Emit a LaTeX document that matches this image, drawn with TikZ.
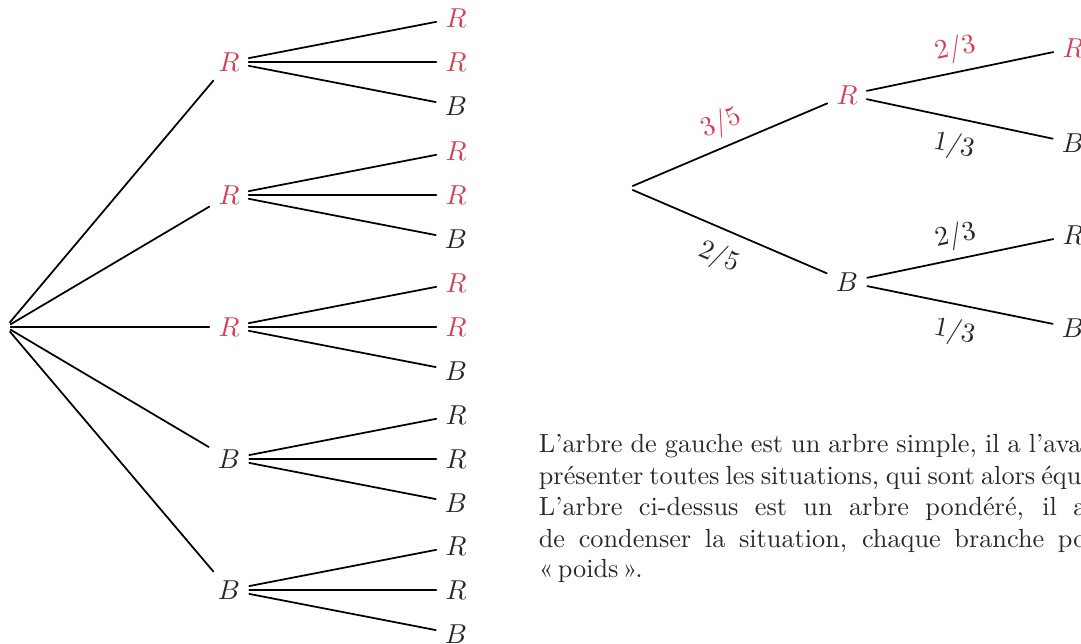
\documentclass[tikz,border=0pt]{standalone}
\usepackage{tikz}
\definecolor{rouge}{RGB}{214,64,84}
\definecolor{encre}{RGB}{40,40,40}
\tikzset{
  sommet/.style={text=encre},
  racine/.style={inner sep=1.5pt},
  poids/.style={midway,sloped,text=encre},
  ligne/.style={anchor=base west,text=encre,inner sep=0pt},
}

\begin{document}
\begin{tikzpicture}[line join=round,line cap=round,line width=0.7pt,x=0.4pt,y=-0.4pt,font=\fontsize{10.5}{13.9}\selectfont]
		\useasboundingbox (0,0) rectangle (1081,644);
		\clip (0,0) rectangle (1081,644);
		% arbre simple
		\node[racine] (O) at (6,327) {};
		\foreach \i/\y/\l/\c in {1/62/R/rouge,2/195/R/rouge,3/327/R/rouge,4/459/B/encre,5/590/B/encre} {
			\node[sommet,text=\c] (N\i) at (229,\y) {$\l$};
			\draw (O) -- (N\i);
			\node[sommet,text=\c] (N\i a) at (456,\y-44) {$R$};
			\node[sommet,text=\c] (N\i b) at (456,\y) {$R$};
			\node[sommet] (N\i c) at (456,\y+44) {$B$};
			\foreach \f in {a,b,c} \draw (N\i) -- (N\i\f);
		}
		% arbre pondere
		\node[racine] (P) at (628,188) {};
		\node[sommet,text=rouge] (PR) at (847,95) {$R$};
		\node[sommet] (PB) at (847,282) {$B$};
		\node[sommet,text=rouge] (PRR) at (1073,48) {$R$};
		\node[sommet] (PRB) at (1073,143) {$B$};
		\node[sommet] (PBR) at (1073,235) {$R$};
		\node[sommet] (PBB) at (1073,328) {$B$};
		\draw (P) -- node[poids,above,text=rouge] {$3/5$} (PR);
		\draw (P) -- node[poids,below=2pt] {$2/5$} (PB);
		\draw (PR) -- node[poids,above] {\color{rouge}$2/3$} (PRR);
		\draw (PR) -- node[poids,below=2pt] {$1/3$} (PRB);
		\draw (PB) -- node[poids,above] {$2/3$} (PBR);
		\draw (PB) -- node[poids,below=2pt] {$1/3$} (PBB);
		% texte
		\node[ligne] (T1) at (538,453) {\makebox[217pt][s]{L'arbre de gauche est un arbre simple, il a l'ava}};
		\node[ligne] (T2) at (538,484.5) {\makebox[217pt][s]{présenter toutes les situations, qui sont alors équ}};
		\node[ligne] (T3) at (538,516) {\makebox[219pt][s]{L'arbre ci-dessus est un arbre pondéré, il a}};
		\node[ligne] (T4) at (538,547.5) {\makebox[219pt][s]{de condenser la situation, chaque branche po}};
		\node[ligne] (T5) at (538,578) {«\,poids\,».};
	\end{tikzpicture}
\end{document}
